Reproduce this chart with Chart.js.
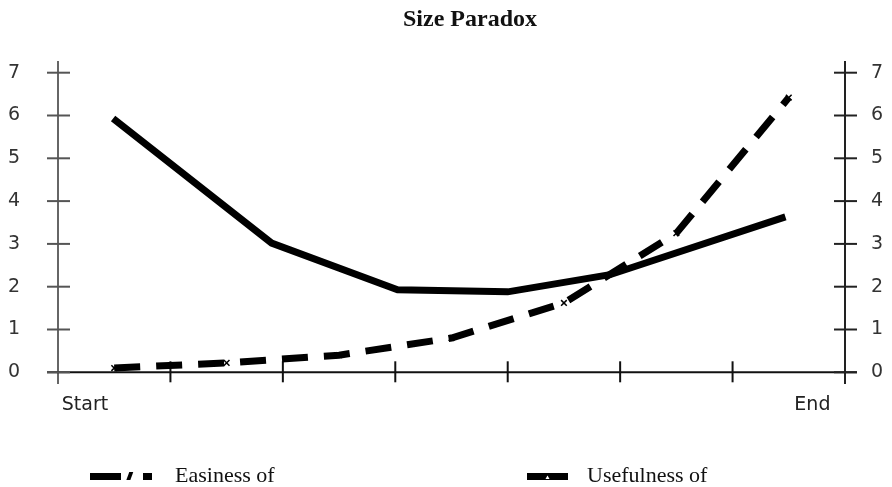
<!DOCTYPE html>
<html>
<head>
<meta charset="utf-8">
<script src="https://cdn.jsdelivr.net/npm/chart.js@4.4.1/dist/chart.umd.min.js"></script>
<style>
  body { margin: 0; background: #fff; }
  #wrap { position: relative; width: 892px; height: 487px; overflow: hidden; }
  #chart { position: absolute; left: 0; top: 0; }
  #title { position: absolute; left: 320px; width: 300px; top: 5px; text-align: center;
           font: bold 24px "Liberation Serif", serif; color: #111; }
  .leg { position: absolute; top: 462px; font: 22px "Liberation Serif", serif; color: #111; }
  .leg svg { position: absolute; top: 8px; }
</style>
</head>
<body>
<div id="wrap">
  <canvas id="chart" width="892" height="487"></canvas>
  <div id="title">Size Paradox</div>
  <div class="leg" style="left:90px;">
    <svg width="64" height="12" style="left:0"><rect x="0" y="3" width="31" height="7" fill="#000"/><rect x="40" y="2" width="4" height="8" fill="#000" transform="skewX(-20)"/><rect x="53" y="3" width="9" height="7" fill="#000"/></svg>
    <span style="position:absolute;left:85px;white-space:nowrap;">Easiness of</span>
  </div>
  <div class="leg" style="left:527px;">
    <svg width="44" height="12" style="left:0"><rect x="0" y="3" width="41" height="7" fill="#000"/><path d="M18.5 9 L20.5 5.5 L22.5 9 Z" fill="#fff"/></svg>
    <span style="position:absolute;left:60px;white-space:nowrap;">Usefulness of</span>
  </div>
</div>
<script>
// Easiness (dashed) and usefulness (solid), x in tick units between Start and End
var easinessX = [0.5, 1.5, 2.5, 3.5, 4.5, 5.5, 6.5];
var easinessY = [0.1, 0.22, 0.4, 0.8, 1.62, 3.25, 6.42];
var usefulX = [0.49, 1.9, 3.02, 4.0, 4.91, 6.47];
var usefulY = [5.93, 3.02, 1.93, 1.88, 2.28, 3.63];
var xLabels = ["Start", "End"];
var xLabelAt = [0.24, 6.71];
var yTicks = [0, 1, 2, 3, 4, 5, 6, 7];
var xTicks = [1, 2, 3, 4, 5, 6];

function toPoints(xs, ys) {
    return xs.map(function (x, i) { return { x: x, y: ys[i] }; });
}

// tick marks that cross the axis lines
var crossTicks = {
    id: "crossTicks",
    beforeDatasetsDraw: function (chart) {
        var ctx = chart.ctx, a = chart.chartArea;
        var y = chart.scales.y, x = chart.scales.x;
        var y0 = y.getPixelForValue(0);
        ctx.save();
        ctx.lineWidth = 2;
        ctx.strokeStyle = "#111";
        ctx.beginPath();
        ctx.moveTo(a.left - 11, y0);
        ctx.lineTo(a.right + 12, y0);
        ctx.stroke();
        xTicks.forEach(function (v) {
            var px = x.getPixelForValue(v);
            ctx.beginPath();
            ctx.moveTo(px, y0 - 11);
            ctx.lineTo(px, y0 + 10);
            ctx.stroke();
        });
        yTicks.forEach(function (v) {
            var py = y.getPixelForValue(v);
            ctx.strokeStyle = "#555";
            ctx.beginPath();
            ctx.moveTo(a.left - 11, py);
            ctx.lineTo(a.left + 12, py);
            ctx.stroke();
            ctx.strokeStyle = "#222";
            ctx.beginPath();
            ctx.moveTo(a.right - 11, py);
            ctx.lineTo(a.right + 12, py);
            ctx.stroke();
        });
        ctx.restore();
    }
};

var tickFont = { family: "DejaVu Sans", size: 19 };

new Chart(document.getElementById("chart").getContext("2d"), {
    type: "line",
    data: {
        datasets: [{
            label: "Easiness of",
            data: toPoints(easinessX, easinessY),
            borderColor: "#000",
            borderWidth: 7,
            borderDash: [26, 16],
            pointStyle: "crossRot",
            pointRadius: 4,
            pointBorderWidth: 1.5,
            pointBorderColor: "#000",
            fill: false,
            tension: 0
        }, {
            label: "Usefulness of",
            data: toPoints(usefulX, usefulY),
            borderColor: "#000",
            borderWidth: 7,
            pointRadius: 0,
            fill: false,
            tension: 0
        }]
    },
    options: {
        responsive: false,
        animation: false,
        layout: { padding: { top: 62 } },
        plugins: { legend: { display: false }, title: { display: false }, tooltip: { enabled: false } },
        scales: {
            x: {
                type: "linear",
                min: 0,
                max: 7,
                border: { display: false },
                grid: { display: false },
                afterBuildTicks: function (s) {
                    s.ticks = xLabelAt.map(function (v) { return { value: v }; });
                },
                afterFit: function (s) { s.height = 104; },
                ticks: {
                    padding: 3,
                    maxRotation: 0,
                    autoSkip: false,
                    color: "#222",
                    font: tickFont,
                    callback: function (v, i) { return xLabels[i]; }
                }
            },
            y: {
                position: "left",
                min: -0.25,
                max: 7.25,
                afterBuildTicks: function (s) {
                    s.ticks = yTicks.map(function (v) { return { value: v }; });
                },
                afterFit: function (s) { s.width = 58; },
                border: { display: true, color: "#666", width: 2 },
                grid: { drawOnChartArea: false, drawTicks: false },
                ticks: { padding: 38, color: "#333", font: tickFont }
            },
            y2: {
                position: "right",
                min: -0.25,
                max: 7.25,
                afterBuildTicks: function (s) {
                    s.ticks = yTicks.map(function (v) { return { value: v }; });
                },
                afterFit: function (s) { s.width = 47; },
                border: { display: true, color: "#222", width: 2 },
                grid: { drawOnChartArea: false, drawTicks: false },
                ticks: { padding: 26, color: "#333", font: tickFont }
            }
        }
    },
    plugins: [crossTicks]
});
</script>
</body>
</html>
